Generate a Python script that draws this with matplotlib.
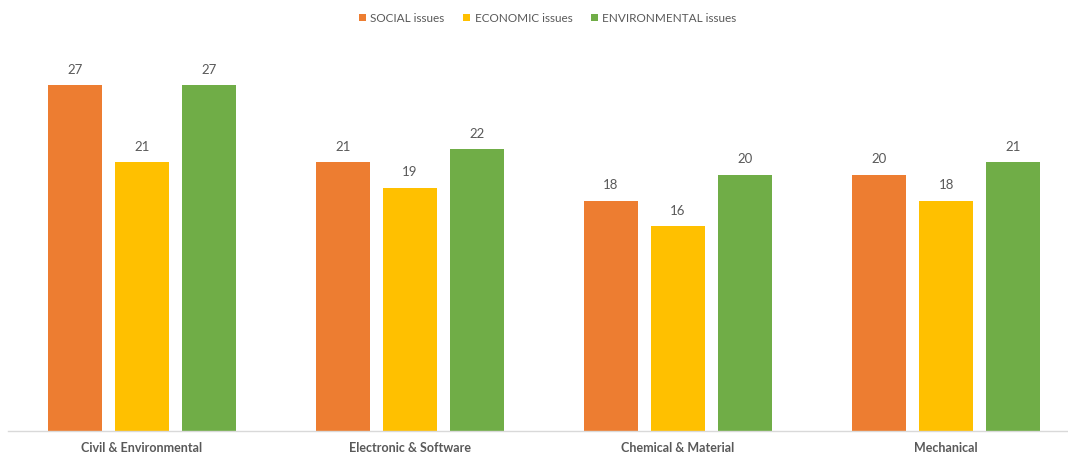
import matplotlib
matplotlib.use("Agg")
import matplotlib.pyplot as plt
import numpy as np

# issue counts per engineering area
categories = ["Civil & Environmental", "Electronic & Software", "Chemical & Material", "Mechanical"]
social = [27, 21, 18, 20]
economic = [21, 19, 16, 18]
environmental = [27, 22, 20, 21]

series_names = ["SOCIAL issues", "ECONOMIC issues", "ENVIRONMENTAL issues"]
colors = ["#ED7D31", "#FFC000", "#70AD47"]
text_grey = "#595959"

plt.rcParams['font.family'] = ['Lato', 'DejaVu Sans']

fig = plt.figure(figsize=(10.68, 4.53), dpi=100)
ax = fig.add_axes([8 / 1068, 22 / 453, 1060 / 1068, 384 / 453])

x = np.arange(len(categories))
width = 0.2
step = 0.25
for i, (vals, name, col) in enumerate(zip([social, economic, environmental], series_names, colors)):
    pos = x + (i - 1) * step
    bars = ax.bar(pos, vals, width, color=col, label=name)
    for b, v in zip(bars, vals):
        ax.text(b.get_x() + b.get_width() / 2, v + 0.75, str(v),
                ha="center", va="bottom", fontsize=9.5, color=text_grey)

ax.set_xlim(-0.5, 3.455)
ax.set_ylim(0, 30)
ax.set_yticks([])
ax.set_xticks(x)
ax.set_xticklabels(categories, fontsize=9, fontweight="bold", color=text_grey)
ax.tick_params(axis="x", length=0, pad=8)
for s in ["top", "right", "left"]:
    ax.spines[s].set_visible(False)
ax.spines["bottom"].set_color("#D9D9D9")
ax.spines["bottom"].set_linewidth(1)

leg = fig.legend(loc="upper center", bbox_to_anchor=(0.513, 0.995), ncol=3, frameon=False,
                 fontsize=8.5, handlelength=0.6, handleheight=0.6, handletextpad=0.35,
                 columnspacing=1.6, borderaxespad=0.5)
for t in leg.get_texts():
    t.set_color(text_grey)

fig.savefig("out.png", dpi=100)
